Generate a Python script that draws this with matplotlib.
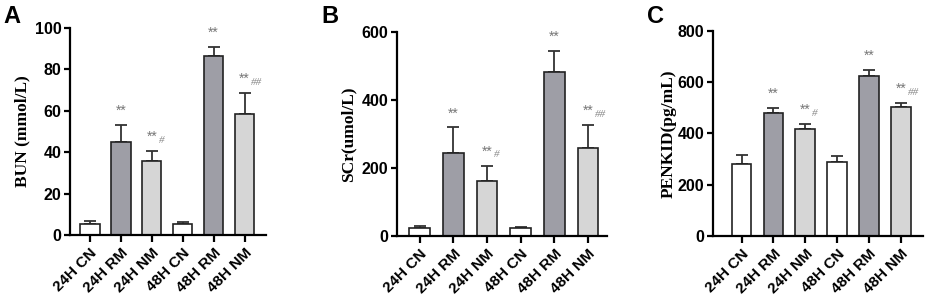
import numpy as np
import matplotlib
matplotlib.use('Agg')
import matplotlib.pyplot as plt

plt.rcParams['font.family'] = ['Liberation Sans', 'DejaVu Sans']

# 数据
groups = ['24H CN', '24H RM', '24H NM', '48H CN', '48H RM', '48H NM']
bun_mean = [5.3, 44.8, 35.9, 5.2, 86.3, 58.6]
bun_err = [1.5, 8.3, 4.5, 1.1, 4.4, 9.8]
scr_mean = [24.5, 245, 162, 24.5, 481, 260]
scr_err = [4.5, 74, 45, 2.0, 64, 65]
penkid_mean = [282, 479, 416, 288, 625, 503]
penkid_err = [35, 20, 20, 25, 22, 15]
stars = ['', '**', '**', '', '**', '**']
hashes = ['', '', '#', '', '', '##']

colors = ['white', '#9e9ea6', '#d6d6d6', 'white', '#9e9ea6', '#d6d6d6']

panels = [
    ('A', bun_mean, bun_err, 'BUN (mmol/L)', 100, 20, [0.0755, 0.227, 0.211, 0.681], (-0.65, 5.68), 0.004, 3),
    ('B', scr_mean, scr_err, 'SCr(umol/L)', 600, 200, [0.428, 0.224, 0.227, 0.671], (-0.68, 5.57), 0.347, 4),
    ('C', penkid_mean, penkid_err, 'PENKID(pg/mL)', 800, 200, [0.769, 0.224, 0.227, 0.674], (-0.9, 5.7), 0.698, 1),
]

fig = plt.figure(figsize=(9.27, 3.04), dpi=100)

for letter, mean, err, ylabel, ymax, step, pos, xlim, lx, lpad in panels:
    ax = fig.add_axes(pos)
    x = np.arange(len(groups))
    ax.bar(x, mean, width=0.62, color=colors, edgecolor='#222222', linewidth=1.2, zorder=2)
    ax.errorbar(x, mean, yerr=[np.zeros(len(err)), err], fmt='none', ecolor='#333333',
                elinewidth=1.3, capsize=4, capthick=1.3, zorder=1)
    ax.set_xlim(*xlim)
    ax.set_ylim(0, ymax)
    ax.set_yticks(np.arange(0, ymax + 1, step))
    ax.set_xticks(x)
    ax.set_xticklabels(groups, rotation=45, ha='right', rotation_mode='anchor',
                       fontsize=11, fontweight='bold')
    for lab in ax.get_yticklabels():
        lab.set_fontweight('bold')
        lab.set_fontsize(11.5)
    ax.spines['top'].set_visible(False)
    ax.spines['right'].set_visible(False)
    ax.spines['left'].set_linewidth(1.6)
    ax.spines['bottom'].set_linewidth(1.6)
    ax.tick_params(axis='both', width=1.6, length=4)
    ax.tick_params(axis='x', length=5, pad=3)
    ax.tick_params(axis='y', pad=2)
    ax.set_ylabel(ylabel, family='Liberation Serif', fontweight='bold', fontsize=12.5, labelpad=lpad)

    # 显著性标注
    off = ymax * 0.035
    for i in range(len(groups)):
        if stars[i]:
            top = mean[i] + err[i] + off
            ax.text(x[i], top, stars[i], ha='center', va='bottom', fontsize=10, color='#777777')
            if hashes[i]:
                ax.text(x[i] + 0.22, top - ymax * 0.005, hashes[i], ha='left', va='bottom',
                        fontsize=8, color='#888888', family='Liberation Serif', style='italic')

    fig.text(lx, 0.945, letter, fontsize=17, fontweight='bold', va='center')

plt.savefig('out.png', dpi=100)
